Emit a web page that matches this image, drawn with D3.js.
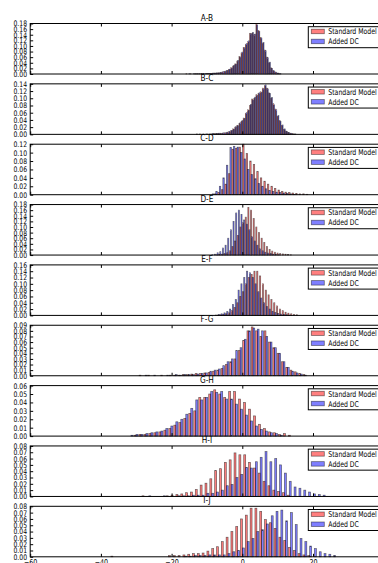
<!DOCTYPE html>
<html>
<head>
<meta charset="utf-8">
<script src="https://cdn.jsdelivr.net/npm/d3@7"></script>
<style>
  body { margin: 0; background: #fff; }
  svg { display: block; font-family: "DejaVu Sans", sans-serif; }
</style>
</head>
<body>
<div id="chart"></div>
<script>
// panel titles, bin layout and y tick ranges
const titles = ["A-B", "B-C", "C-D", "D-E", "E-F", "F-G", "G-H", "H-I", "I-J"];
const binStart = [-16, -13, -9, -9, -8, -29.3, -32.2, -28.5, -37.3];
const binWidth = [0.6, 0.6, 1.0, 0.75, 0.8, 1.22, 1.41, 1.37, 1.358];
const yMax = [0.18, 0.14, 0.12, 0.18, 0.16, 0.09, 0.06, 0.08, 0.08];
const yStep = [0.02, 0.02, 0.02, 0.02, 0.02, 0.01, 0.01, 0.01, 0.01];
const xTicks = [-60, -40, -20, 0, 20, 40];
const legendLabels = ["Standard Model", "Added DC"];

// histogram heights per bin (Standard Model = red, Added DC = blue)
const stdAB = [0.001,0,0.001,0,0.001,0.001,0.001,0.001,0.002,0.001,0.002,0.002,0.002,0.003,0.003,0.004,0.005,0.007,0.009,0.012,0.016,0.022,0.028,0.036,0.046,0.062,0.075,0.095,0.105,0.115,0.145,0.145,0.14,0.178,0.155,0.13,0.11,0.085,0.06,0.04,0.022,0.012,0.007,0.003,0.001];
const dcAB  = [0,0.001,0,0.001,0.001,0.001,0.001,0.002,0.001,0.002,0.002,0.002,0.003,0.003,0.004,0.004,0.006,0.008,0.01,0.013,0.017,0.021,0.03,0.035,0.048,0.06,0.078,0.093,0.108,0.118,0.143,0.148,0.142,0.175,0.152,0.128,0.112,0.083,0.058,0.042,0.02,0.011,0.006,0.003,0.001];

const stdBC = [0.001,0,0,0.001,0,0.001,0.001,0.001,0.002,0.002,0.002,0.003,0.003,0.004,0.005,0.007,0.010,0.015,0.020,0.025,0.030,0.036,0.045,0.058,0.068,0.080,0.098,0.100,0.110,0.113,0.118,0.128,0.135,0.128,0.115,0.100,0.085,0.070,0.050,0.038,0.025,0.014,0.009,0.005,0.003,0.002,0.001];
const dcBC  = [0,0.001,0,0,0.001,0,0.001,0.002,0.001,0.002,0.003,0.002,0.004,0.004,0.006,0.008,0.011,0.014,0.021,0.024,0.032,0.038,0.044,0.060,0.066,0.083,0.095,0.103,0.108,0.115,0.116,0.126,0.137,0.126,0.113,0.102,0.082,0.068,0.052,0.036,0.026,0.015,0.008,0.005,0.003,0.001,0.001];

const stdCD = [0,0.002,0.005,0.012,0.025,0.05,0.108,0.11,0.113,0.12,0.098,0.08,0.072,0.055,0.04,0.032,0.025,0.02,0.015,0.011,0.008,0.006,0.005,0.004,0.003,0.002,0.002,0.001];
const dcCD  = [0.002,0.008,0.02,0.04,0.07,0.112,0.115,0.113,0.1,0.085,0.06,0.048,0.038,0.027,0.02,0.014,0.01,0.008,0.006,0.005,0.004,0.003,0.002,0.001,0,0,0,0];

const stdDE = [0,0,0.001,0.002,0.003,0.005,0.008,0.015,0.03,0.05,0.07,0.1,0.115,0.135,0.17,0.16,0.13,0.1,0.08,0.06,0.045,0.03,0.02,0.014,0.01,0.007,0.005,0.004,0.003,0.002,0.001];
const dcDE  = [0.001,0.003,0.008,0.012,0.025,0.035,0.06,0.09,0.12,0.15,0.16,0.145,0.125,0.11,0.09,0.065,0.05,0.035,0.022,0.015,0.01,0.007,0.005,0.003,0.002,0.001,0,0,0,0,0];

const stdEF = [0,0.001,0.002,0.003,0.005,0.008,0.015,0.025,0.04,0.06,0.075,0.1,0.12,0.13,0.14,0.14,0.125,0.1,0.08,0.065,0.05,0.04,0.03,0.02,0.015,0.01,0.007,0.005,0.003,0.002];
const dcEF  = [0.001,0.003,0.005,0.008,0.012,0.02,0.035,0.05,0.08,0.1,0.12,0.14,0.135,0.12,0.1,0.075,0.055,0.04,0.028,0.02,0.013,0.009,0.006,0.004,0.003,0.002,0.001,0,0,0];

const stdFG = [0.001,0,0.001,0,0,0.001,0,0.001,0.001,0.001,0.002,0.002,0.003,0.004,0.004,0.005,0.006,0.008,0.01,0.013,0.02,0.025,0.03,0.045,0.063,0.08,0.087,0.08,0.07,0.08,0.06,0.05,0.04,0.025,0.015,0.01,0.007,0.004,0.002];
const dcFG  = [0,0.001,0,0.001,0,0,0.001,0,0.002,0.001,0.002,0.002,0.002,0.003,0.004,0.005,0.008,0.01,0.012,0.018,0.025,0.03,0.045,0.05,0.065,0.08,0.085,0.083,0.08,0.07,0.06,0.05,0.04,0.025,0.015,0.008,0.005,0.003,0.001];

const stdGH = [0,0.001,0.002,0.002,0.003,0.004,0.005,0.007,0.009,0.013,0.016,0.021,0.027,0.030,0.046,0.046,0.050,0.055,0.050,0.046,0.053,0.053,0.044,0.040,0.032,0.024,0.014,0.009,0.005,0.004,0.002,0.003,0.001];
const dcGH  = [0.001,0.002,0.002,0.003,0.004,0.005,0.006,0.009,0.012,0.017,0.020,0.026,0.033,0.043,0.043,0.046,0.053,0.052,0.053,0.044,0.044,0.038,0.032,0.025,0.018,0.012,0.008,0.006,0.004,0.003,0.001,0,0];

const stdHI = [0.001,0,0,0,0,0.001,0.002,0.003,0.004,0.006,0.007,0.011,0.018,0.021,0.028,0.041,0.044,0.054,0.058,0.069,0.066,0.066,0.054,0.045,0.037,0.024,0.017,0.010,0.008,0.006,0.002,0,0,0,0,0,0,0];
const dcHI  = [0,0.001,0,0,0.001,0,0,0.001,0.001,0.001,0.002,0.002,0.002,0.005,0.005,0.007,0.010,0.017,0.019,0.030,0.035,0.046,0.045,0.055,0.062,0.071,0.055,0.060,0.050,0.037,0.024,0.015,0.013,0.010,0.007,0.004,0.003,0.002];

const stdIJ = [0.001,0,0,0,0,0,0,0,0,0,0,0,0.002,0.002,0.002,0.003,0.004,0.005,0.005,0.006,0.009,0.013,0.016,0.024,0.031,0.040,0.048,0.060,0.066,0.077,0.077,0.072,0.059,0.054,0.045,0.031,0.026,0.015,0.010,0.005,0.003,0.002,0,0,0,0,0];
const dcIJ  = [0,0,0,0,0,0,0,0,0,0,0,0,0,0,0,0.001,0.001,0.002,0.002,0.002,0.003,0.003,0.003,0.003,0.005,0.008,0.010,0.014,0.024,0.029,0.040,0.043,0.052,0.065,0.072,0.074,0.057,0.070,0.051,0.029,0.024,0.017,0.013,0.008,0.005,0.004,0.002];

const stdSeries = [stdAB, stdBC, stdCD, stdDE, stdEF, stdFG, stdGH, stdHI, stdIJ];
const dcSeries  = [dcAB, dcBC, dcCD, dcDE, dcEF, dcFG, dcGH, dcHI, dcIJ];

const W = 378, H = 563;
const left = 30.2, right = 383.7;
const top0 = 23.5, pitch = 60.35, ph = 50.5;
const squeeze = 0.8; // the picture is narrower than matplotlib's text

const x = d3.scaleLinear().domain([-60, 40]).range([left, right]);

const svg = d3.select("#chart").append("svg")
    .attr("width", W).attr("height", H);

function squeezedText(parent, tx, ty, str, size, anchor, sx) {
  parent.append("g").attr("transform", `translate(${tx},${ty})`)
    .append("text")
      .attr("transform", `scale(${sx},1)`)
      .attr("text-anchor", anchor)
      .attr("font-size", size)
      .attr("fill", "#000")
      .text(str);
}

titles.forEach((title, k) => {
  const y0 = top0 + k * pitch;
  const g = svg.append("g").attr("transform", `translate(0,${y0})`);
  const y = d3.scaleLinear().domain([0, yMax[k]]).range([ph, 0]);
  const w = binWidth[k];

  const bins = stdSeries[k].map((v, i) => ({
    x0: binStart[k] + i * w,
    std: v,
    dc: dcSeries[k][i] || 0
  }));

  // red bars first, then blue, side by side inside each bin
  [["std", 0.1, "red"], ["dc", 0.5, "blue"]].forEach(([key, off, col]) => {
    g.append("g").selectAll("rect")
      .data(bins.filter(d => d[key] > 0))
      .join("rect")
        .attr("x", d => x(d.x0 + off * w))
        .attr("width", d => x(d.x0 + (off + 0.4) * w) - x(d.x0 + off * w))
        .attr("y", d => y(d[key]))
        .attr("height", d => ph - y(d[key]))
        .attr("fill", col).attr("fill-opacity", 0.5)
        .attr("stroke", "#000").attr("stroke-opacity", 0.55)
        .attr("stroke-width", 0.7);
  });

  // y axis, ticks pointing inward
  const yt = d3.range(0, yMax[k] + yStep[k] / 2, yStep[k]);
  const ya = g.append("g").attr("transform", `translate(${left},0)`)
    .call(d3.axisLeft(y).tickValues(yt).tickFormat(d3.format(".2f"))
      .tickSizeInner(-3).tickSizeOuter(0).tickPadding(4));
  ya.select(".domain").remove();
  ya.selectAll("text").attr("font-size", 7.6).attr("font-family", "DejaVu Sans")
    .attr("transform", `scale(${squeeze},1)`);

  // x ticks on top and bottom
  const isLast = k === titles.length - 1;
  const xb = g.append("g").attr("transform", `translate(0,${ph})`)
    .call(d3.axisBottom(x).tickValues(xTicks)
      .tickFormat(isLast ? (d => d < 0 ? "\u2212" + Math.abs(d) : d) : "")
      .tickSizeInner(-3).tickSizeOuter(0).tickPadding(3));
  xb.select(".domain").remove();
  xb.selectAll("text").attr("font-size", 8).attr("font-family", "DejaVu Sans")
    .attr("transform", `scale(${squeeze},1)`);
  const xt = g.append("g")
    .call(d3.axisTop(x).tickValues(xTicks).tickFormat("")
      .tickSizeInner(-3).tickSizeOuter(0));
  xt.select(".domain").remove();

  // frame
  g.append("rect")
    .attr("x", left).attr("y", 0)
    .attr("width", right - left).attr("height", ph)
    .attr("fill", "none").attr("stroke", "#000").attr("stroke-width", 1);

  // title
  squeezedText(g, (left + right) / 2, -3, title, 9, "middle", 0.82);

  // legend
  const lg = g.append("g").attr("transform", "translate(308.3,3.2)");
  lg.append("rect").attr("x", 0).attr("y", 0).attr("width", 90).attr("height", 21)
    .attr("fill", "#fff").attr("stroke", "#000").attr("stroke-width", 1);
  ["red", "blue"].forEach((col, j) => {
    lg.append("rect")
      .attr("x", 3).attr("y", 2.5 + j * 10)
      .attr("width", 13).attr("height", 4.5)
      .attr("fill", col).attr("fill-opacity", 0.5)
      .attr("stroke", "#000").attr("stroke-opacity", 0.5).attr("stroke-width", 0.8);
    squeezedText(lg, 20, 7.7 + j * 10, legendLabels[j], 8, "start", 0.77);
  });
});
</script>
</body>
</html>
